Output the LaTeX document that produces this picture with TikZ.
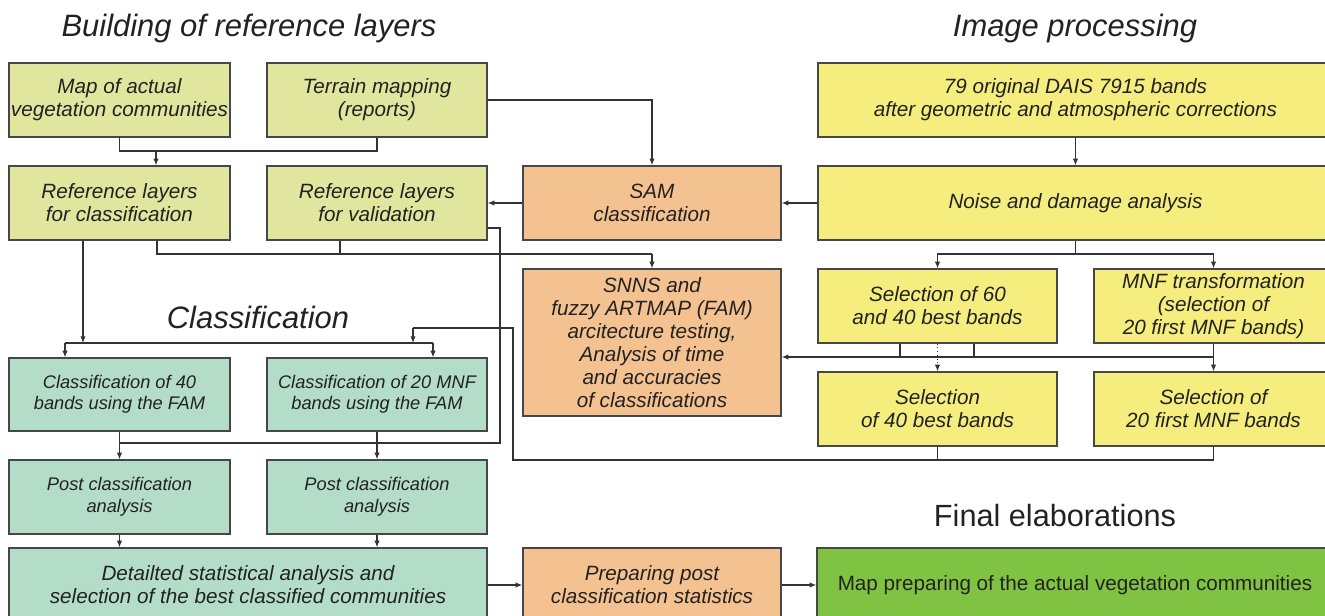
\documentclass[tikz,border=0pt]{standalone}
\usepackage{fontspec}
\setmainfont{Liberation Sans}
\usetikzlibrary{arrows.meta}
\definecolor{cRef}{HTML}{E0E69E}
\definecolor{cYel}{HTML}{F5ED7D}
\definecolor{cOra}{HTML}{F4C290}
\definecolor{cTea}{HTML}{B4DDC9}
\definecolor{cGre}{HTML}{80C242}
\definecolor{cLine}{HTML}{333333}
\definecolor{cText}{HTML}{222222}
\begin{document}
\begin{tikzpicture}[x=0.75pt,y=-0.75pt,
  bx/.style={draw=cLine!90, line width=1pt, inner sep=0pt, align=center, text=cText,
    font=\fontsize{15.5pt}{17.3pt}\selectfont\itshape},
  bxs/.style={bx, font=\fontsize{13.7pt}{16.1pt}\selectfont\itshape},
  bxu/.style={bx, font=\fontsize{15.5pt}{17.3pt}\selectfont},
  sz/.style 2 args={minimum width=#1*0.75pt, minimum height=#2*0.75pt},
  ttl/.style={anchor=base, text=cText, font=\fontsize{23.2pt}{26pt}\selectfont\itshape},
  ttlu/.style={anchor=base, text=cText, font=\fontsize{23pt}{26pt}\selectfont},
  ln/.style={draw=cLine, line width=0.8pt},
  arr/.style={ln, -{Latex[length=5pt,width=4pt]}}
]
\useasboundingbox (0,0) rectangle (1325,616);

% titles
\node[ttl] (t1) at (249,37) {Building of reference layers};
\node[ttl] (t2) at (1075,37) {Image processing};
\node[ttl] (t3) at (258,329) {Classification};
\node[ttlu] (t4) at (1055,527) {Final elaborations};

% row 1
\node[bx, fill=cRef, sz={221}{74}] (A1) at (119.5,100) {Map of actual\\vegetation communities};
\node[bx, fill=cRef, sz={220}{74}] (A2) at (377,100) {Terrain mapping\\(reports)};
\node[bx, fill=cYel, sz={515}{74}] (W1) at (1075.5,100) {79 original DAIS 7915 bands\\after geometric and atmospheric corrections};

% row 2
\node[bx, fill=cRef, sz={221}{74}] (B1) at (119.5,203) {Reference layers\\for classification};
\node[bx, fill=cRef, sz={220}{74}] (B2) at (377,203) {Reference layers\\for validation};
\node[bx, fill=cOra, sz={258}{74}] (SAM) at (652,203) {SAM\\classification};
\node[bx, fill=cYel, sz={515}{74}] (NO) at (1075.5,203) {Noise and damage analysis};

% row 3
\node[bx, fill=cOra, sz={258}{147}] (SN) at (652,342.5) {SNNS and\\fuzzy ARTMAP (FAM)\\arcitecture testing,\\Analysis of time\\and accuracies\\of classifications};
\node[bx, fill=cYel, sz={239}{74}] (S60) at (937.5,306) {Selection of 60\\and 40 best bands};
\node[bx, fill=cYel, sz={239}{74}] (MNF) at (1213.5,306) {MNF transformation\\(selection of\\20 first MNF bands)};
\node[bx, fill=cYel, sz={239}{74}] (S40) at (937.5,409) {Selection\\of 40 best bands};
\node[bx, fill=cYel, sz={239}{74}] (S20) at (1213.5,409) {Selection of\\20 first MNF bands};

% classification
\node[bxs, fill=cTea, sz={221}{73}] (C40) at (119.5,394.5) {Classification of 40\\bands using the FAM};
\node[bxs, fill=cTea, sz={220}{73}] (C20) at (377,394.5) {Classification of 20 MNF\\bands using the FAM};
\node[bxs, fill=cTea, sz={221}{74}] (P1) at (119.5,497) {Post classification\\analysis};
\node[bxs, fill=cTea, sz={220}{74}] (P2) at (377,497) {Post classification\\analysis};
\node[bx, fill=cTea, sz={478}{74}] (D) at (248,585) {Detailted statistical analysis and\\selection of the best classified communities};
\node[bx, fill=cOra, sz={258}{74}] (PP) at (652,585) {Preparing post\\classification statistics};
\node[bxu, fill=cGre, sz={516}{74}] (MP) at (1075,585) {Map preparing of the actual vegetation communities};

% connectors
\coordinate (j1) at (156,151);
\draw[ln] (A1.south) -- (A1.south |- j1) -- (A2.south |- j1) -- (A2.south);
\draw[arr] (j1) -- (j1 |- B1.north);
\draw[arr] (A2.east) -| (SAM.north);
\draw[arr] (W1.south) -- (NO.north);
\draw[arr] (NO.west) -- (SAM.east);
\draw[arr] (SAM.west) -- (B2.east);

% validation line
\coordinate (v1) at (500,228);
\coordinate (v2) at (500,443);
\draw[ln] (B2.east |- v1) -- (v1) -- (v2) -- (v2 -| C40.south);
\draw[arr] (C40.south) -- (P1.north);
\draw[arr] (C20.south) -- (P2.north);

% reference for classification
\coordinate (k1) at (83,343);
\coordinate (k2) at (65,343);
\coordinate (k3) at (433,343);
\draw[arr] (k1 |- B1.south) -- (k1);
\draw[ln] (k2) -- (k3);
\draw[arr] (k2) -- (k2 |- C40.north);
\draw[arr] (k3) -- (k3 |- C20.north);

% to SNNS
\coordinate (s1) at (157,254);
\coordinate (s2) at (340,254);
\draw[ln] (s1 |- B1.south) -- (s1) -- (s1 -| SN.north);
\draw[ln] (s2 |- B2.south) -- (s2);
\draw[arr] (s1 -| SN.north) -- (SN.north);

% noise split
\coordinate (n1) at (1075,254);
\draw[ln] (NO.south) -- (NO.south |- n1);
\draw[arr] (NO.south |- n1) -| (S60.north);
\draw[arr] (NO.south |- n1) -| (MNF.north);

% to SNNS right
\coordinate (m1) at (1213,357);
\coordinate (q1) at (900,357);
\coordinate (q2) at (974,357);
\draw[arr] (MNF.south) -- (S20.north);
\draw[arr] (MNF.south |- m1) -- (m1 -| SN.east);
\draw[ln] (q1 |- S60.south) -- (q1);
\draw[ln] (q2 |- S60.south) -- (q2);
\draw[arr, dotted] (S60.south) -- (S40.north);

% feedback from selections
\coordinate (f1) at (513,460);
\coordinate (f2) at (513,328);
\coordinate (f3) at (413,328);
\draw[ln] (S40.south) -- (S40.south |- f1);
\draw[ln] (S20.south) -- (S20.south |- f1) -- (f1) -- (f2) -- (f3);
\draw[arr] (f3) -- (f3 |- k1);

% bottom
\draw[arr] (P1.south) -- (P1.south |- D.north);
\draw[arr] (P2.south) -- (P2.south |- D.north);
\draw[arr] (D.east) -- (PP.west);
\draw[arr] (PP.east) -- (MP.west);
\end{tikzpicture}
\end{document}
